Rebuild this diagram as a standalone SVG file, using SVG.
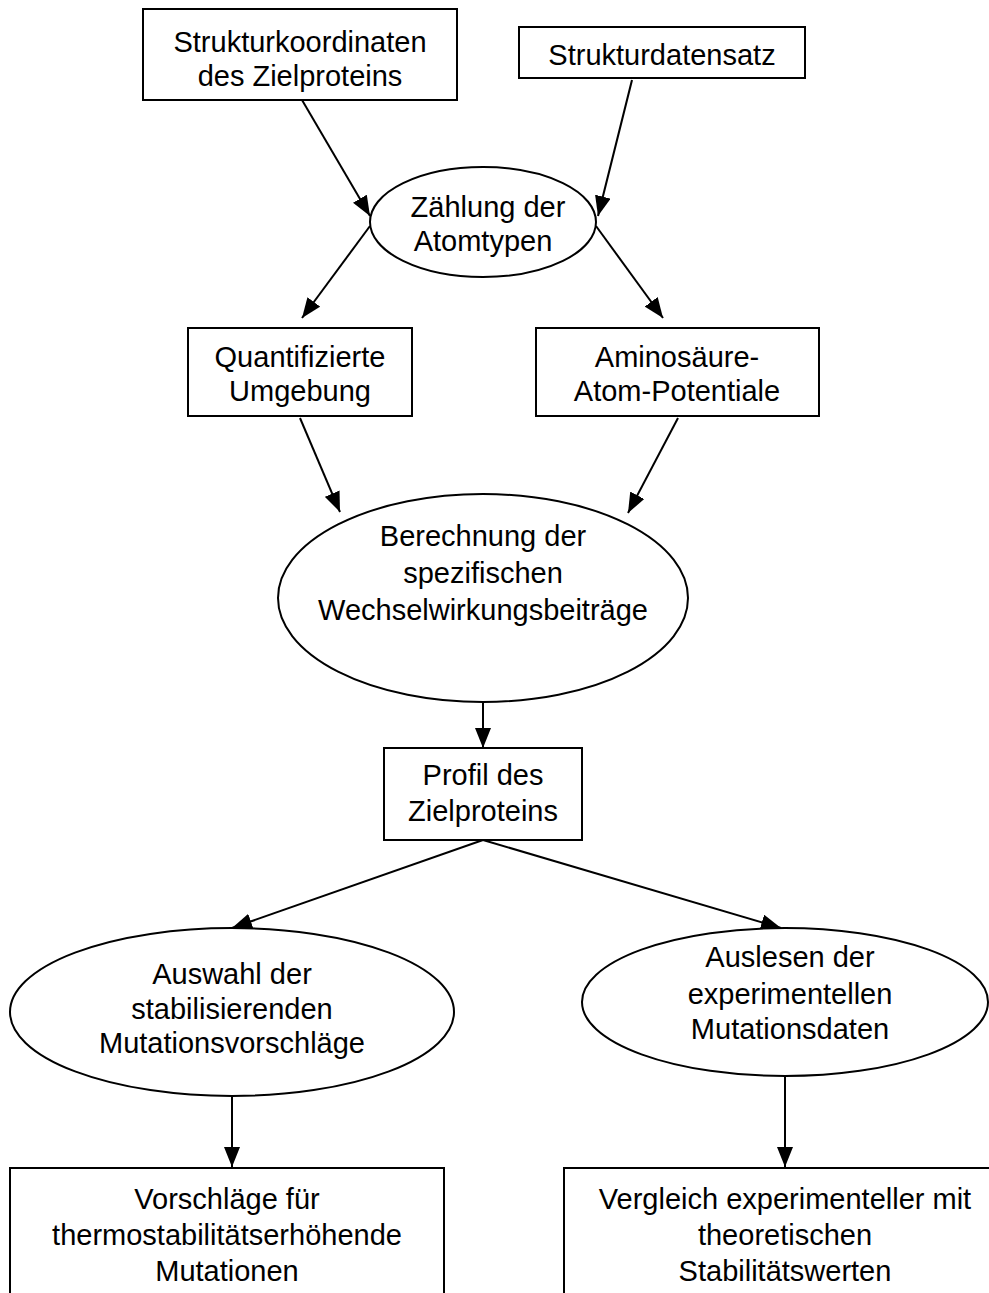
<svg xmlns="http://www.w3.org/2000/svg" width="989" height="1293" viewBox="0 0 989 1293">
<defs>
<marker id="ah" viewBox="0 0 20 16" refX="20" refY="8" markerWidth="20" markerHeight="16" markerUnits="userSpaceOnUse" orient="auto">
<path d="M0,0 L20,8 L0,16 Z" fill="#000"/>
</marker>
</defs>
<style>
.n{fill:#fff;stroke:#000;stroke-width:2}
.t{font-family:"Liberation Sans",Arial,sans-serif;font-size:29px;fill:#000;text-anchor:middle}
.c{stroke:#000;stroke-width:2;fill:none;marker-end:url(#ah)}
</style>
<rect width="989" height="1293" fill="#fff"/>
<g id="connectors">
<line class="c" x1="302" y1="100" x2="370" y2="216"/>
<line class="c" x1="632" y1="80" x2="598" y2="216"/>
<line class="c" x1="370" y1="226" x2="302" y2="318"/>
<line class="c" x1="596" y1="226" x2="663" y2="318"/>
<line class="c" x1="300" y1="418" x2="340" y2="512"/>
<line class="c" x1="678" y1="418" x2="628" y2="513"/>
<line class="c" x1="483" y1="672" x2="483" y2="748"/>
<line class="c" x1="483" y1="840" x2="232" y2="928"/>
<line class="c" x1="483" y1="840" x2="781" y2="928"/>
<line class="c" x1="232" y1="1095" x2="232" y2="1167"/>
<line class="c" x1="785" y1="1076" x2="785" y2="1167"/>
</g>
<g id="n1">
<rect class="n" x="143" y="9" width="314" height="91"/>
<text class="t" x="300" y="52">Strukturkoordinaten</text>
<text class="t" x="300" y="86">des Zielproteins</text>
</g>
<g id="n2">
<rect class="n" x="519" y="27" width="286" height="51"/>
<text class="t" x="662" y="65">Strukturdatensatz</text>
</g>
<g id="n3">
<ellipse class="n" cx="483" cy="222" rx="113" ry="55"/>
<text class="t" x="488" y="217">Zählung der</text>
<text class="t" x="483" y="251">Atomtypen</text>
</g>
<g id="n4">
<rect class="n" x="188" y="328" width="224" height="88"/>
<text class="t" x="300" y="367">Quantifizierte</text>
<text class="t" x="300" y="401">Umgebung</text>
</g>
<g id="n5">
<rect class="n" x="536" y="328" width="283" height="88"/>
<text class="t" x="677" y="367">Aminosäure-</text>
<text class="t" x="677" y="401">Atom-Potentiale</text>
</g>
<g id="n6">
<ellipse class="n" cx="483" cy="598" rx="205" ry="104"/>
<text class="t" x="483" y="546">Berechnung der</text>
<text class="t" x="483" y="583">spezifischen</text>
<text class="t" x="483" y="620">Wechselwirkungsbeiträge</text>
</g>
<g id="n7">
<rect class="n" x="384" y="748" width="198" height="92"/>
<text class="t" x="483" y="785">Profil des</text>
<text class="t" x="483" y="821">Zielproteins</text>
</g>
<g id="n8">
<ellipse class="n" cx="232" cy="1012" rx="222" ry="84"/>
<text class="t" x="232" y="984">Auswahl der</text>
<text class="t" x="232" y="1019">stabilisierenden</text>
<text class="t" x="232" y="1053">Mutationsvorschläge</text>
</g>
<g id="n9">
<ellipse class="n" cx="785" cy="1002" rx="203" ry="74"/>
<text class="t" x="790" y="967">Auslesen der</text>
<text class="t" x="790" y="1004">experimentellen</text>
<text class="t" x="790" y="1039">Mutationsdaten</text>
</g>
<g id="n10">
<rect class="n" x="10" y="1168" width="434" height="140"/>
<text class="t" x="227" y="1209">Vorschläge für</text>
<text class="t" x="227" y="1245">thermostabilitätserhöhende</text>
<text class="t" x="227" y="1281">Mutationen</text>
</g>
<g id="n11">
<rect class="n" x="564" y="1168" width="440" height="140"/>
<text class="t" x="785" y="1209">Vergleich experimenteller mit</text>
<text class="t" x="785" y="1245">theoretischen</text>
<text class="t" x="785" y="1281">Stabilitätswerten</text>
</g>
</svg>
